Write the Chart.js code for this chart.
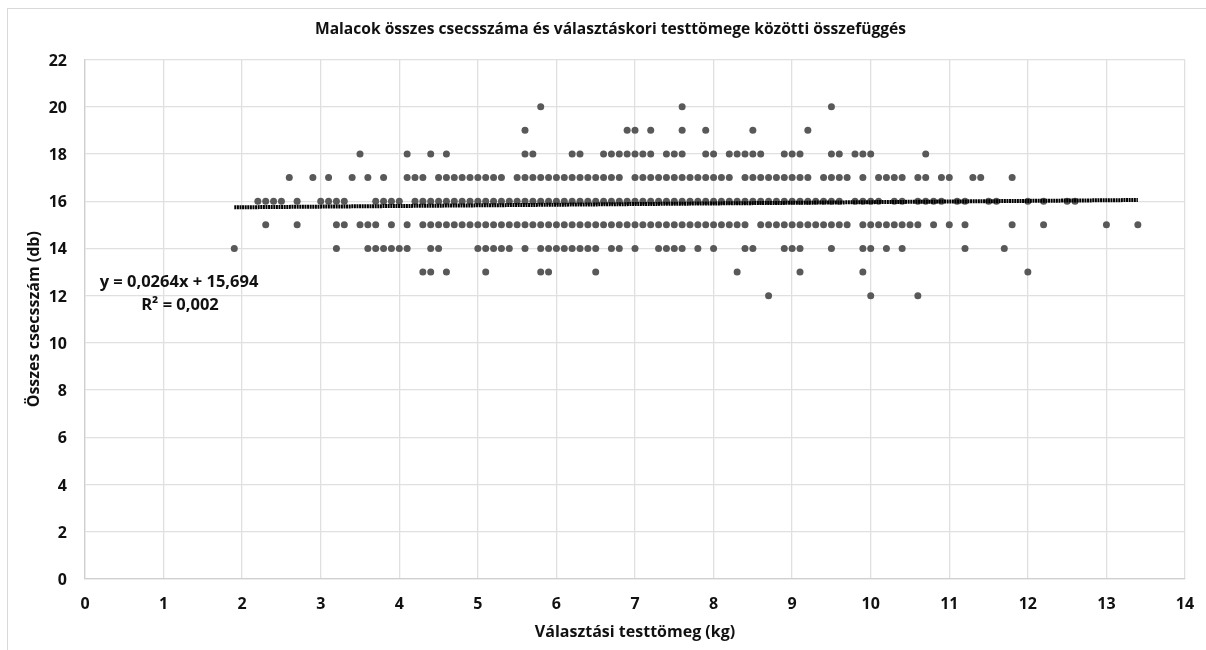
<!DOCTYPE html>
<html>
<head>
<meta charset="utf-8">
<title>Malacok</title>
<script src="https://cdn.jsdelivr.net/npm/chart.js@4/dist/chart.umd.min.js"></script>
<style>
  html, body { margin: 0; padding: 0; background: #fff; overflow: hidden; }
  #wrap { position: relative; width: 1206px; height: 650px; }
  #frame { position: absolute; left: 7px; top: 8px; width: 1199px; height: 642px;
           border-left: 1px solid #d9d9d9; border-top: 1px solid #d9d9d9; box-sizing: border-box; }
  canvas { position: absolute; left: 0; top: 0; }
</style>
</head>
<body>
<div id="wrap">
  <div id="frame"></div>
  <canvas id="scatter" width="1206" height="650"></canvas>
</div>
<script>
// Értékek soronként: összes csecsszám -> választási testtömeg (kg)
var row20 = [5.8, 7.6, 9.5];
var row19 = [5.6, 6.9, 7.0, 7.2, 7.6, 7.9, 8.5, 9.2];
var row18 = [3.5, 4.1, 4.4, 4.6, 5.6, 5.7, 6.2, 6.3, 6.6, 6.7, 6.8, 6.9, 7.0, 7.1, 7.2, 7.4, 7.5, 7.6, 7.9, 8.0,
  8.2, 8.3, 8.4, 8.5, 8.6, 8.9, 9.0, 9.1, 9.5, 9.6, 9.8, 9.9, 10.0, 10.7];
var row17 = [2.6, 2.9, 3.1, 3.4, 3.6, 3.8, 4.1, 4.2, 4.3, 4.5, 4.6, 4.7, 4.8, 4.9, 5.0, 5.1, 5.2, 5.3, 5.5, 5.6,
  5.7, 5.8, 5.9, 6.0, 6.1, 6.2, 6.3, 6.4, 6.5, 6.6, 6.7, 6.8, 7.0, 7.1, 7.2, 7.3, 7.4, 7.5, 7.6, 7.7, 7.8, 7.9,
  8.0, 8.1, 8.2, 8.4, 8.5, 8.6, 8.7, 8.8, 8.9, 9.0, 9.1, 9.2, 9.4, 9.5, 9.6, 9.7, 9.9, 10.1, 10.2, 10.3, 10.4,
  10.6, 10.7, 10.9, 11.0, 11.3, 11.4, 11.8];
var row16 = [2.2, 2.3, 2.4, 2.5, 2.7, 3.0, 3.1, 3.2, 3.3, 3.7, 3.8, 3.9, 4.0, 4.2, 4.3, 4.4, 4.5, 4.6, 4.7, 4.8,
  4.9, 5.0, 5.1, 5.2, 5.3, 5.4, 5.5, 5.6, 5.7, 5.8, 5.9, 6.0, 6.1, 6.2, 6.3, 6.4, 6.5, 6.6, 6.7, 6.8, 6.9, 7.0,
  7.1, 7.2, 7.3, 7.4, 7.5, 7.6, 7.7, 7.8, 7.9, 8.0, 8.1, 8.2, 8.3, 8.4, 8.5, 8.6, 8.7, 8.8, 8.9, 9.0, 9.1, 9.2,
  9.3, 9.4, 9.5, 9.6, 9.8, 9.9, 10.0, 10.1, 10.3, 10.4, 10.6, 10.7, 10.8, 10.9, 11.1, 11.2, 11.5, 11.6, 12.0,
  12.2, 12.5, 12.6];
var row15 = [2.3, 2.7, 3.2, 3.3, 3.5, 3.6, 3.7, 3.9, 4.1, 4.3, 4.4, 4.5, 4.6, 4.7, 4.8, 4.9, 5.0, 5.1, 5.2, 5.3,
  5.4, 5.5, 5.6, 5.7, 5.8, 5.9, 6.0, 6.1, 6.2, 6.3, 6.4, 6.5, 6.6, 6.7, 6.8, 6.9, 7.0, 7.1, 7.2, 7.3, 7.4, 7.5,
  7.6, 7.7, 7.8, 7.9, 8.0, 8.1, 8.2, 8.3, 8.4, 8.6, 8.7, 8.8, 8.9, 9.0, 9.1, 9.2, 9.3, 9.4, 9.5, 9.6, 9.7, 9.9,
  10.0, 10.1, 10.2, 10.3, 10.4, 10.5, 10.6, 10.8, 11.0, 11.2, 11.8, 12.2, 13.0, 13.4];
var row14 = [1.9, 3.2, 3.6, 3.7, 3.8, 3.9, 4.0, 4.1, 4.4, 4.5, 5.0, 5.1, 5.2, 5.3, 5.4, 5.6, 5.8, 5.9, 6.0, 6.1,
  6.2, 6.3, 6.4, 6.5, 6.7, 6.8, 7.0, 7.3, 7.4, 7.5, 7.6, 7.8, 8.0, 8.4, 8.5, 8.9, 9.0, 9.1, 9.5, 9.9, 10.0, 10.2,
  10.4, 11.2, 11.7];
var row13 = [4.3, 4.4, 4.6, 5.1, 5.8, 5.9, 6.5, 8.3, 9.1, 9.9, 12.0];
var row12 = [8.7, 10.0, 10.6];

// Trendvonal végpontjai
var trendX = [1.9, 13.4];
var trendY = [15.74, 16.05];

var xTicks = [0, 1, 2, 3, 4, 5, 6, 7, 8, 9, 10, 11, 12, 13, 14];
var yTicks = [0, 2, 4, 6, 8, 10, 12, 14, 16, 18, 20, 22];

var chartTitle = "Malacok összes csecsszáma és választáskori testtömege közötti összefüggés";
var xTitle = "Választási testtömeg (kg)";
var yTitle = "Összes csecsszám (db)";
var equation = ["y = 0,0264x + 15,694", "R² = 0,002"];

var rows = [[12, row12], [13, row13], [14, row14], [15, row15], [16, row16], [17, row17], [18, row18], [19, row19], [20, row20]];
var points = [];
rows.forEach(function (r) {
  r[1].forEach(function (x) { points.push({ x: x, y: r[0] }); });
});

var fontName = "'Open Sans', sans-serif";

// Cím és egyenlet felirata
var chartTexts = {
  id: "chartTexts",
  afterDraw: function (chart) {
    var c = chart.ctx;
    c.save();
    c.fillStyle = "#111";
    c.textAlign = "center";
    c.textBaseline = "middle";
    c.font = "bold 15.6px " + fontName;
    c.fillText(chartTitle, 610.5, 30);
    c.font = "bold 16.5px " + fontName;
    c.fillText(equation[0], 179, 282);
    c.fillText(equation[1], 180, 305);
    c.restore();
  }
};

var ctx = document.getElementById("scatter").getContext("2d");
var chart = new Chart(ctx, {
  type: "scatter",
  data: {
    datasets: [
      {
        label: "Trend",
        type: "line",
        data: trendX.map(function (x, i) { return { x: x, y: trendY[i] }; }),
        borderColor: "#000",
        borderWidth: 4,
        borderDash: [2, 0.6],
        pointRadius: 0,
        fill: false,
        order: 0
      },
      {
        label: "Csecsszám",
        data: points,
        backgroundColor: "#595959",
        borderColor: "#595959",
        pointRadius: 3.5,
        pointBorderWidth: 0,
        order: 1
      }
    ]
  },
  options: {
    responsive: false,
    animation: false,
    layout: { padding: { left: 22, right: 21, top: 59.5, bottom: 8 } },
    plugins: {
      legend: { display: false },
      tooltip: { enabled: false },
      title: { display: false }
    },
    scales: {
      x: {
        type: "linear",
        min: 0,
        max: 14,
        afterBuildTicks: function (s) { s.ticks = xTicks.map(function (v) { return { value: v }; }); },
        afterFit: function (s) { s.height = 63; s.paddingLeft = 0; s.paddingRight = 0; },
        grid: { color: "#e0e0e0", lineWidth: 1.3, drawTicks: false },
        border: { color: "#cfcfcf", width: 1.3 },
        ticks: { color: "#111", padding: 16, maxRotation: 0, font: { family: fontName, size: 16, weight: "bold" } },
        title: { display: true, text: xTitle, color: "#111", padding: 0, font: { family: fontName, size: 16, weight: "bold" } }
      },
      y: {
        min: 0,
        max: 22,
        afterBuildTicks: function (s) { s.ticks = yTicks.map(function (v) { return { value: v }; }); },
        afterFit: function (s) { s.width = 63; s.paddingTop = 0; s.paddingBottom = 0; },
        grid: { color: "#e0e0e0", lineWidth: 1.3, drawTicks: false },
        border: { color: "#cfcfcf", width: 1.3 },
        ticks: { color: "#111", padding: 18, labelOffset: 1.5, font: { family: fontName, size: 16, weight: "bold" } },
        title: { display: true, text: yTitle, color: "#111", padding: { top: 3, bottom: 0 }, font: { family: fontName, size: 16, weight: "bold" } }
      }
    }
  },
  plugins: [chartTexts]
});
</script>
</body>
</html>
